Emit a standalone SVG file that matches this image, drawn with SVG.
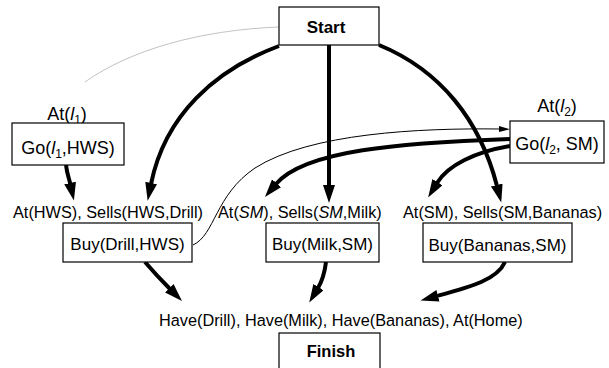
<svg xmlns="http://www.w3.org/2000/svg" width="609" height="368" viewBox="0 0 609 368">
<style>
text{font-family:"Liberation Sans",Arial,sans-serif;fill:#000}
.box{fill:#fff;stroke:#000;stroke-width:1.2}
.lbl{font-size:16.3px}
.big{font-size:18px}
.buy{font-size:17px}
.bold{font-weight:bold}
.thick{fill:none;stroke:#000;stroke-width:4}
.thin{fill:none;stroke:#000;stroke-width:1}
.faint{fill:none;stroke:#a8a8a8;stroke-width:0.7}
</style>
<defs>
<marker id="ah" markerUnits="userSpaceOnUse" markerWidth="19" markerHeight="13" refX="1" refY="6" orient="auto">
<path d="M0,0 L18,6 L0,12 z" fill="#000"/>
</marker>
<marker id="ahs" markerUnits="userSpaceOnUse" markerWidth="12" markerHeight="7" refX="0" refY="3" orient="auto">
<path d="M0,0 L11,3 L0,6 z" fill="#000"/>
</marker>
</defs>
<g id="connectors">
<path class="faint" d="M279 27 C200 30 130 50 85 82"/>
<path class="thin" d="M193 245 C215 235 215 195 255 168 C310 133 420 128 499 129" marker-end="url(#ahs)"/>
<path class="thick" d="M279 46 C215 70 165 115 151 184" marker-end="url(#ah)"/>
<path class="thick" d="M329 45 L329 186" marker-end="url(#ah)"/>
<path class="thick" d="M379 45 C440 70 480 120 497 186" marker-end="url(#ah)"/>
<path class="thick" d="M510 139 C400 143 305 150 276 184" marker-end="url(#ah)"/>
<path class="thick" d="M510 146 C475 152 448 165 437 183" marker-end="url(#ah)"/>
<path class="thick" d="M66 165 C67 174 69 178 70.3 184" marker-end="url(#ah)"/>
<path class="thick" d="M145 262 Q157 276 170 289" marker-end="url(#ah)"/>
<path class="thick" d="M326 262 Q324 278 318 288" marker-end="url(#ah)"/>
<path class="thick" d="M505 262 C497 280 470 287 437 296" marker-end="url(#ah)"/>
</g>
<g id="start">
<rect class="box" x="279" y="7" width="100" height="38"/>
<text class="bold" x="326" y="33" font-size="17" text-anchor="middle">Start</text>
</g>
<g id="go1">
<text class="big" x="67" y="120" text-anchor="middle">At(<tspan font-style="italic">l</tspan><tspan font-size="12" dy="4">1</tspan><tspan dy="-4">)</tspan></text>
<rect class="box" x="12" y="123" width="112" height="42"/>
<text class="big" x="68" y="154" text-anchor="middle">Go(<tspan font-style="italic">l</tspan><tspan font-size="12" dy="4">1</tspan><tspan dy="-4">,HWS)</tspan></text>
</g>
<g id="go2">
<text class="big" x="557" y="112" text-anchor="middle">At(<tspan font-style="italic">l</tspan><tspan font-size="12" dy="4">2</tspan><tspan dy="-4">)</tspan></text>
<rect class="box" x="510" y="121" width="94" height="42"/>
<text class="big" x="557" y="150" text-anchor="middle">Go(<tspan font-style="italic">l</tspan><tspan font-size="12" dy="4">2</tspan><tspan dy="-4">, SM)</tspan></text>
</g>
<g id="buy-drill">
<text class="lbl" x="13" y="218">At(HWS), Sells(HWS,Drill)</text>
<rect class="box" x="63" y="223" width="129" height="39"/>
<text class="buy" x="127.5" y="250" text-anchor="middle">Buy(Drill,HWS)</text>
</g>
<g id="buy-milk">
<text class="lbl" x="218" y="218">At(<tspan font-style="italic">SM</tspan>), Sells(<tspan font-style="italic">SM</tspan>,Milk)</text>
<rect class="box" x="266" y="223" width="113" height="39"/>
<text class="buy" x="322.5" y="250" text-anchor="middle">Buy(Milk,SM)</text>
</g>
<g id="buy-bananas">
<text class="lbl" x="403" y="218">At(SM), Sells(SM,Bananas)</text>
<rect class="box" x="423" y="223" width="149" height="39"/>
<text class="buy" x="497.5" y="251" text-anchor="middle">Buy(Bananas,SM)</text>
</g>
<g id="finish">
<text class="lbl" x="159" y="326">Have(Drill), Have(Milk), Have(Bananas), At(Home)</text>
<rect class="box" x="279" y="333" width="101" height="36"/>
<text class="bold" x="331" y="357" font-size="16.5" text-anchor="middle">Finish</text>
</g>
</svg>
